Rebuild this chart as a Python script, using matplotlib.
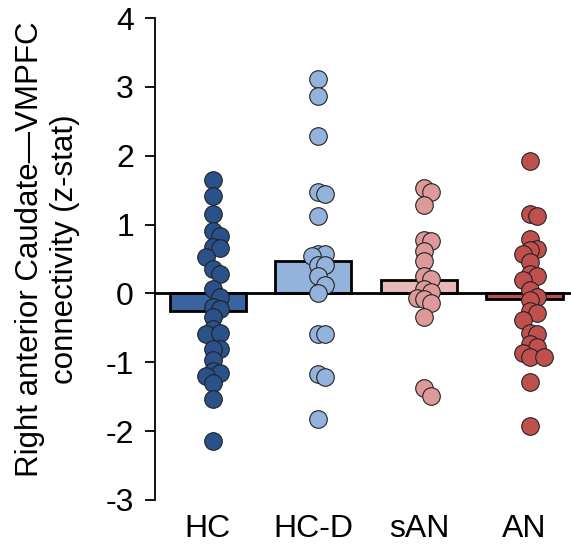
import numpy as np
import matplotlib
matplotlib.use("Agg")
from matplotlib import pyplot as plt

plt.rcParams['font.family'] = ['Liberation Sans', 'DejaVu Sans']

# groups and data
groups = ['HC', 'HC-D', 'sAN', 'AN']
means = [-0.25, 0.47, 0.19, -0.08]
sems = [0.14, 0.15, 0.13, 0.11]

hc = [1.65, 1.41, 1.16, 0.91, 0.83, 0.67, 0.66, 0.53, 0.35, 0.29, 0.07, -0.05,
      -0.19, -0.22, -0.34, -0.51, -0.59, -0.58, -0.80, -0.80, -0.97, -1.12,
      -1.16, -1.20, -1.30, -1.53, -2.14]
hcd = [3.11, 2.87, 2.29, 1.48, 1.45, 1.12, 0.58, 0.58, 0.55, 0.42, 0.42, 0.26,
       0.13, 0.0, -0.59, -0.59, -1.17, -1.21, -1.82]
san = [1.53, 1.47, 1.28, 0.77, 0.76, 0.62, 0.47, 0.26, 0.21, 0.07, 0.02, -0.06,
       -0.08, -0.14, -0.34, -1.38, -1.49]
an = [1.93, 1.15, 1.12, 0.79, 0.65, 0.63, 0.57, 0.45, 0.29, 0.26, 0.19, 0.05,
      -0.05, -0.10, -0.25, -0.29, -0.39, -0.58, -0.59, -0.73, -0.78, -0.87,
      -0.92, -0.92, -1.29, -1.93]
points = [hc, hcd, san, an]

bar_colors = ['#3a63a0', '#93b3dc', '#e7b7b9', '#c0504d']
dot_colors = ['#2a5189', '#93b3dc', '#de9a9b', '#c0504d']


def swarm(vals, step=0.065, min_dy=0.15):
    # simple deterministic spread so dots overlap only partly
    order = np.argsort(vals)[::-1]
    placed = []
    offs = np.zeros(len(vals))
    for i in order:
        v = vals[i]
        for k in [0, 1, -1, 2, -2, 3, -3]:
            x = k * step
            ok = True
            for (px, py) in placed:
                if abs(px - x) < step * 0.9 and abs(py - v) < min_dy:
                    ok = False
                    break
            if ok:
                break
        offs[i] = x
        placed.append((x, v))
    return offs


fig = plt.figure(figsize=(5.71, 5.5), dpi=100)
ax = fig.add_axes([0.271, 0.091, 0.729, 0.876])

xs = np.arange(len(groups))
ax.bar(xs, means, width=0.72, color=bar_colors, edgecolor='black',
       linewidth=2, zorder=2)
ax.errorbar(xs, means, yerr=sems, fmt='none', ecolor='black', elinewidth=2.5,
            capsize=0, zorder=2.5)
ax.axhline(0, color='black', lw=2, zorder=2.6)

for i, vals in enumerate(points):
    vals = np.array(vals)
    ax.scatter(xs[i] + 0.05 + swarm(vals), vals, s=160, color=dot_colors[i],
               edgecolor='#222222', linewidth=0.8, zorder=3)

ax.set_xlim(-0.5, 3.44)
ax.set_ylim(-3, 4)
ax.set_yticks(range(-3, 5))
ax.set_yticklabels([str(v) for v in range(-3, 5)])
ax.set_xticks(xs)
ax.set_xticklabels(groups)
ax.tick_params(axis='y', labelsize=23, length=7, width=1.3, direction='out', pad=8)
ax.tick_params(axis='x', labelsize=23, length=0, pad=10)
for s in ['top', 'right', 'bottom']:
    ax.spines[s].set_visible(False)
ax.spines['left'].set_linewidth(1.3)
ax.set_ylabel('Right anterior Caudate\u2014VMPFC\nconnectivity (z-stat)',
              fontsize=22.5, linespacing=1.2)
ax.yaxis.set_label_coords(-0.18, 0.52)

fig.savefig('out.png', dpi=100)
